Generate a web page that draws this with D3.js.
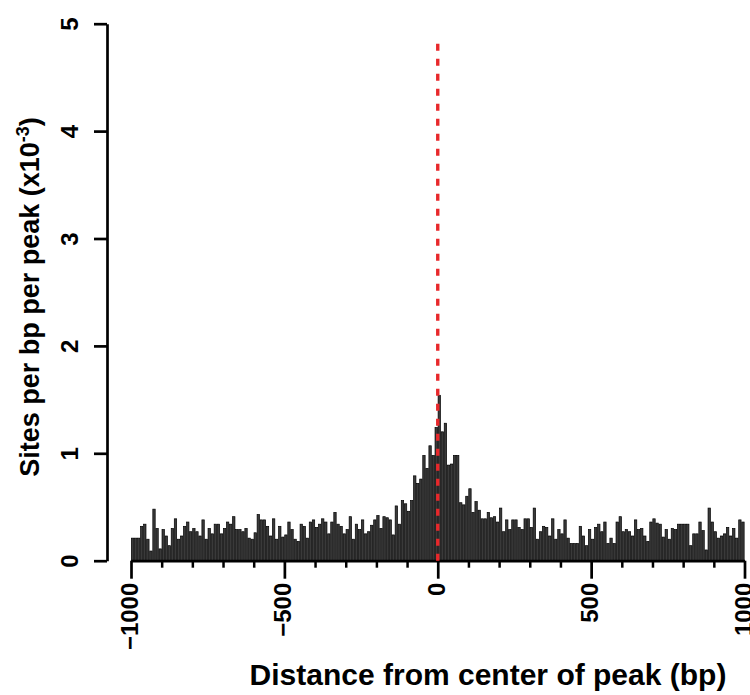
<!DOCTYPE html>
<html>
<head>
<meta charset="utf-8">
<script src="https://cdn.jsdelivr.net/npm/d3@7"></script>
<style>
  html, body { margin: 0; padding: 0; background: #fff; }
  svg { display: block; }
  text { font-family: "Liberation Sans", Arial, Helvetica, sans-serif; font-weight: bold; fill: #000; }
</style>
</head>
<body>
<svg id="chart" width="750" height="695"></svg>
<script>
// Bin starts (bp), 10-bp bins from -1000 to 990
const binStarts = d3.range(-1000, 1000, 10);
// Sites per bp per peak (x10^-3), one value per bin
const siteDensity = [
  0.21, 0.21, 0.21, 0.32, 0.34, 0.20, 0.09, 0.48, 0.30, 0.11,
  0.29, 0.23, 0.14, 0.30, 0.39, 0.20, 0.23, 0.32, 0.36, 0.27,
  0.30, 0.27, 0.23, 0.38, 0.20, 0.30, 0.25, 0.34, 0.34, 0.25,
  0.30, 0.36, 0.34, 0.41, 0.29, 0.29, 0.27, 0.30, 0.21, 0.20,
  0.26, 0.43, 0.38, 0.38, 0.32, 0.23, 0.39, 0.20, 0.32, 0.22,
  0.24, 0.36, 0.29, 0.20, 0.18, 0.34, 0.32, 0.21, 0.36, 0.38,
  0.31, 0.34, 0.39, 0.36, 0.25, 0.36, 0.45, 0.34, 0.32, 0.25,
  0.29, 0.41, 0.20, 0.34, 0.29, 0.38, 0.25, 0.27, 0.33, 0.38,
  0.42, 0.30, 0.41, 0.40, 0.38, 0.24, 0.51, 0.34, 0.56, 0.53,
  0.46, 0.56, 0.79, 0.72, 0.76, 0.98, 0.86, 1.07, 0.98, 1.24,
  1.54, 1.20, 1.28, 0.89, 0.90, 0.98, 0.98, 0.54, 0.52, 0.60,
  0.67, 0.45, 0.55, 0.47, 0.39, 0.39, 0.45, 0.40, 0.41, 0.36,
  0.49, 0.27, 0.38, 0.29, 0.38, 0.38, 0.31, 0.29, 0.39, 0.39,
  0.31, 0.49, 0.20, 0.27, 0.32, 0.31, 0.23, 0.39, 0.20, 0.29,
  0.25, 0.38, 0.21, 0.16, 0.16, 0.16, 0.32, 0.23, 0.14, 0.29,
  0.20, 0.31, 0.34, 0.27, 0.36, 0.16, 0.21, 0.16, 0.36, 0.41,
  0.27, 0.29, 0.27, 0.23, 0.38, 0.29, 0.30, 0.23, 0.18, 0.36,
  0.39, 0.35, 0.34, 0.22, 0.29, 0.20, 0.30, 0.29, 0.34, 0.34,
  0.34, 0.34, 0.14, 0.25, 0.25, 0.36, 0.28, 0.10, 0.49, 0.36,
  0.27, 0.21, 0.23, 0.25, 0.31, 0.23, 0.30, 0.21, 0.38, 0.36
];
const binWidth = 10;
const xMajorTicks = [-1000, -500, 0, 500, 1000];
const xMinorTicks = [-900, -800, -700, -600, -400, -300, -200, -100, 100, 200, 300, 400, 600, 700, 800, 900];
const yTicks = [0, 1, 2, 3, 4, 5];
const markerPosition = 0;
const markerTop = 4.82;
const xTitle = "Distance from center of peak (bp)";
const yTitleMain = "Sites per bp per peak (x10";
const yTitleSup = "-3";

const svg = d3.select("#chart");
const x = d3.scaleLinear().domain([-1000, 1000]).range([131, 744.5]);
const y = d3.scaleLinear().domain([0, 5]).range([560.7, 23.7]);

// Bars
const bars = binStarts.map((b, i) => ({ start: b, value: siteDensity[i] }));
svg.append("g").selectAll("rect").data(bars).join("rect")
  .attr("x", d => x(d.start) + 0.35)
  .attr("width", d => x(d.start + binWidth) - x(d.start) - 0.7)
  .attr("y", d => y(d.value))
  .attr("height", d => y(0) - y(d.value))
  .attr("fill", "#3a3a3a")
  .attr("stroke", "#000")
  .attr("stroke-width", 0.7);

// X axis: minor ticks
const xMinor = svg.append("g").attr("transform", `translate(0,${y(0)})`)
  .call(d3.axisBottom(x).tickValues(xMinorTicks).tickSize(7).tickSizeOuter(0).tickFormat(""));
xMinor.select(".domain").remove();
xMinor.selectAll("line").attr("stroke", "#000").attr("stroke-width", 2.5);

// X axis: major ticks + labels
const xAxis = svg.append("g").attr("transform", `translate(0,${y(0)})`)
  .call(d3.axisBottom(x).tickValues(xMajorTicks).tickSize(18).tickSizeOuter(0).tickFormat(d3.format("d")));
xAxis.select(".domain").attr("stroke", "#000").attr("stroke-width", 2.7);
xAxis.selectAll("line").attr("stroke", "#000").attr("stroke-width", 2.7);
xAxis.selectAll("text")
  .attr("transform", "rotate(-90)")
  .attr("text-anchor", "end")
  .attr("x", -22)
  .attr("y", 6.5)
  .attr("dy", null)
  .style("font-size", "24px")
  .style("font-family", "'Liberation Sans', Arial, sans-serif")
  .style("font-weight", "bold");

// Y axis
const yAxis = svg.append("g").attr("transform", "translate(107,0)")
  .call(d3.axisLeft(y).tickValues(yTicks).tickSize(13).tickSizeOuter(0).tickFormat(d3.format("d")));
yAxis.select(".domain").attr("stroke", "#000").attr("stroke-width", 2.7);
yAxis.selectAll("line").attr("stroke", "#000").attr("stroke-width", 2.7);
yAxis.selectAll("text")
  .attr("transform", "rotate(-90)")
  .attr("text-anchor", "middle")
  .attr("x", 0)
  .attr("y", -29)
  .attr("dy", null)
  .style("font-size", "24px")
  .style("font-family", "'Liberation Sans', Arial, sans-serif")
  .style("font-weight", "bold");

// Red dashed marker line at peak center
svg.append("line")
  .attr("x1", x(markerPosition)).attr("x2", x(markerPosition))
  .attr("y1", y(0)).attr("y2", y(markerTop))
  .attr("stroke", "#e8282b")
  .attr("stroke-width", 3.4)
  .attr("stroke-dasharray", "7,8");

// Axis titles
svg.append("text")
  .attr("x", 488).attr("y", 685)
  .attr("text-anchor", "middle")
  .style("font-size", "30px")
  .text(xTitle);

const yt = svg.append("text")
  .attr("transform", "translate(39,297) rotate(-90)")
  .attr("text-anchor", "middle")
  .style("font-size", "27px");
yt.append("tspan").text(yTitleMain);
yt.append("tspan").attr("dy", -10).style("font-size", "18px").text(yTitleSup);
yt.append("tspan").attr("dy", 10).text(")");
</script>
</body>
</html>
